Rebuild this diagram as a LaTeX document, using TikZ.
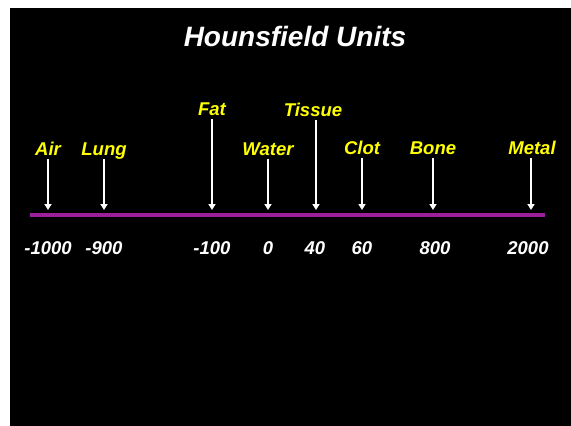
\documentclass[tikz,border=0pt]{standalone}
\usepackage{fontspec}
\setmainfont{Liberation Sans}
\usetikzlibrary{arrows.meta}
\definecolor{axispurple}{HTML}{9C1F99}
\definecolor{lblyellow}{HTML}{FFFF00}
\begin{document}
\begin{tikzpicture}[x=1pt,y=-1pt,
  lbl/.style={anchor=base,text=lblyellow,font=\fontsize{18.5}{21}\selectfont\bfseries\itshape,inner xsep=0pt,inner ysep=4pt,text depth=0pt},
  num/.style={anchor=base,text=white,font=\fontsize{18.5}{21}\selectfont\bfseries\itshape,inner sep=0pt},
  ptr/.style={draw=white,line width=1.6pt,-{Triangle[width=7pt,length=6pt]}},
  axis/.style={draw=axispurple,line width=3.6pt}]
\useasboundingbox (0,0) rectangle (571,426);
\fill[white] (0,0) rectangle (571,426);
\fill[black] (10,8) rectangle (571,426);
\node[anchor=base,text=white,font=\fontsize{28}{32}\selectfont\bfseries\itshape,inner sep=0pt] (title) at (295,46) {Hounsfield Units};
\coordinate (axL) at (30,215);
\coordinate (axR) at (545,215);
\draw[axis] (axL) -- (axR);
% labels
\node[lbl] (air) at (48,155) {Air};
\node[lbl] (lung) at (104,155) {Lung};
\node[lbl] (fat) at (212,115) {Fat};
\node[lbl] (water) at (268,155) {Water};
\node[lbl] (tissue) at (313,116) {Tissue};
\node[lbl] (clot) at (362,154) {Clot};
\node[lbl] (bone) at (433,154) {Bone};
\node[lbl] (metal) at (532,154) {Metal};
% arrow targets
\coordinate (tAir) at (48,210);
\coordinate (tLung) at (104,210);
\coordinate (tFat) at (212,210);
\coordinate (tWater) at (268,210);
\coordinate (tTissue) at (316,210);
\coordinate (tClot) at (362,210);
\coordinate (tBone) at (433,210);
\coordinate (tMetal) at (531,210);
\draw[ptr] (air.south) -- (tAir);
\draw[ptr] (lung.south) -- (tLung);
\draw[ptr] (fat.south) -- (tFat);
\draw[ptr] (water.south) -- (tWater);
\draw[ptr] (tissue.south -| tTissue) -- (tTissue);
\draw[ptr] (clot.south) -- (tClot);
\draw[ptr] (bone.south) -- (tBone);
\draw[ptr] (metal.south -| tMetal) -- (tMetal);
% numbers
\node[num] (n1) at (48,254) {-1000};
\node[num] (n2) at (104,254) {-900};
\node[num] (n3) at (212,254) {-100};
\node[num] (n4) at (268,254) {0};
\node[num] (n5) at (315,254) {40};
\node[num] (n6) at (362,254) {60};
\node[num] (n7) at (435,254) {800};
\node[num] (n8) at (528,254) {2000};
\end{tikzpicture}
\end{document}
